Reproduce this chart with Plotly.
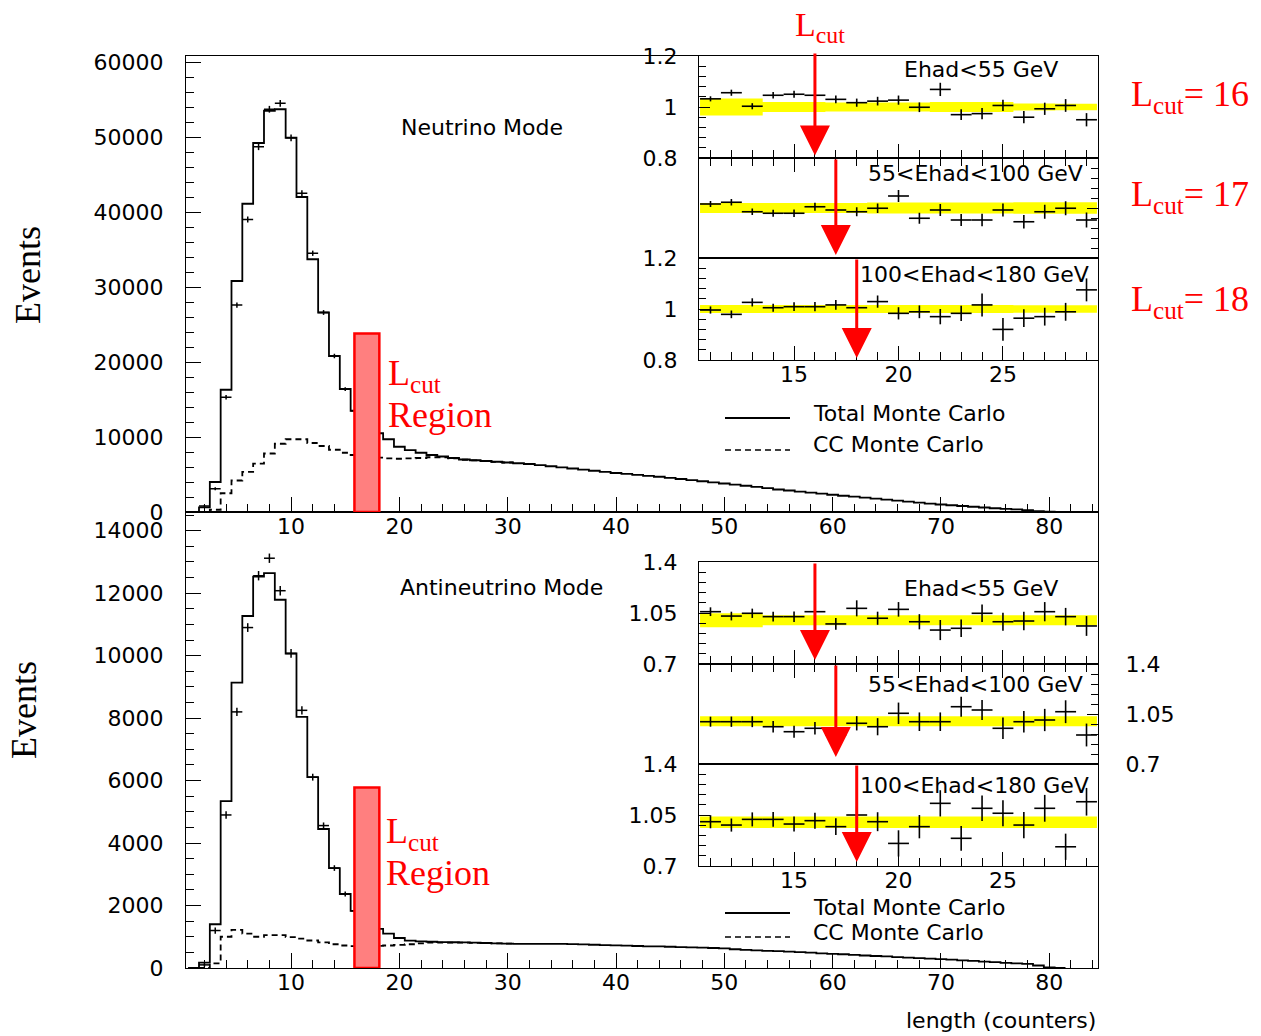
import plotly.graph_objects as go

W, H = 1261, 1036

# ---------------- main histograms: event counts per length bin ----------------
BINS = list(range(1, 82))

NU_TOTAL_MC = [0, 620, 4000, 16300, 30800, 41100, 49200, 53500, 53700, 49900,
               42000, 33700, 26600, 20800, 16400, 13500, 11600, 10500, 9700, 8700,
               8250, 7900, 7600, 7400, 7200, 7000, 6900, 6800, 6700, 6600,
               6500, 6400, 6250, 6100, 5950, 5800, 5650, 5500, 5350, 5200,
               5080, 4950, 4820, 4700, 4550, 4400, 4250, 4100, 3950, 3800,
               3650, 3500, 3350, 3180, 3000, 2870, 2720, 2580, 2440, 2300,
               2170, 2040, 1910, 1780, 1650, 1520, 1390, 1260, 1130, 1000,
               900, 800, 700, 600, 500, 420, 340, 250, 130, 50, 0]

CC_BINS = list(range(1, 31))
NU_CC_MC = [0, 0, 300, 2500, 4200, 5350, 6450, 7800, 9100, 9700,
            9700, 9200, 8800, 8300, 7900, 7600, 7400, 7250, 7150, 7100,
            7150, 7200, 7300, 7300, 7150, 6970, 6880, 6780, 6690, 6600]

DATA_BINS = list(range(2, 17))
NU_DATA = [800, 3100, 15300, 27600, 39000, 48700, 53700, 54500, 49900, 42500,
           34500, 26600, 20800, 16400, 13500]
NU_DATA_ERR = [150, 200, 300, 350, 400, 450, 450, 450, 450, 400,
               350, 320, 300, 250, 250]

ANU_TOTAL_MC = [0, 170, 1400, 5340, 9140, 11270, 12530, 12640, 11790, 10070,
                8040, 6110, 4450, 3200, 2370, 1830, 1500, 1250, 1100, 960,
                875, 850, 840, 830, 825, 820, 810, 800, 790, 780,
                775, 775, 775, 770, 770, 765, 755, 745, 735, 725,
                715, 705, 695, 690, 680, 670, 660, 650, 640, 630,
                600, 580, 565, 550, 540, 525, 510, 490, 470, 450,
                440, 420, 400, 385, 370, 350, 330, 315, 300, 285,
                265, 245, 225, 205, 185, 165, 150, 130, 80, 20, 0]

ANU_CC_MC = [0, 0, 150, 1000, 1220, 1100, 1000, 1050, 1050, 990,
             940, 880, 820, 760, 720, 700, 700, 710, 720, 740,
             760, 790, 810, 815, 815, 812, 805, 796, 788, 778]

ANU_DATA = [100, 1200, 4900, 8200, 10900, 12560, 13120, 12080, 10070, 8250,
            6110, 4560, 3200, 2370, 1830]
ANU_DATA_ERR = [60, 100, 120, 130, 140, 150, 150, 150, 140, 130,
                110, 100, 90, 80, 70]

# ---------------- inset ratios: data / Monte Carlo ----------------
RATIO_BINS = list(range(11, 30))

NU_RATIO = [
    [1.032, 1.056, 1.003, 1.046, 1.050, 1.046, 1.030, 1.017, 1.023, 1.027,
     0.999, 1.069, 0.970, 0.974, 1.006, 0.960, 0.993, 1.006, 0.950],
    [1.016, 1.023, 0.985, 0.979, 0.979, 1.005, 0.992, 0.985, 0.999, 1.048,
     0.959, 0.992, 0.952, 0.952, 0.992, 0.945, 0.985, 0.999, 0.952],
    [0.996, 0.979, 1.026, 1.005, 1.009, 1.009, 1.016, 1.005, 1.029, 0.983,
     0.989, 0.970, 0.983, 1.016, 0.920, 0.964, 0.970, 0.989, 1.075],
]
NU_RATIO_ERR = [
    [0.010, 0.012, 0.012, 0.013, 0.014, 0.015, 0.015, 0.016, 0.017, 0.018,
     0.019, 0.026, 0.021, 0.022, 0.022, 0.024, 0.024, 0.025, 0.026],
    [0.012, 0.013, 0.013, 0.014, 0.015, 0.016, 0.017, 0.018, 0.019, 0.024,
     0.022, 0.024, 0.024, 0.025, 0.026, 0.027, 0.028, 0.028, 0.030],
    [0.014, 0.015, 0.016, 0.016, 0.017, 0.018, 0.019, 0.020, 0.024, 0.024,
     0.025, 0.030, 0.030, 0.045, 0.045, 0.035, 0.035, 0.035, 0.045],
]
NU_BAND_HALF = [
    [0.033, 0.033, 0.033, 0.020, 0.020, 0.020, 0.018, 0.018, 0.018, 0.018,
     0.018, 0.020, 0.020, 0.020, 0.020, 0.014, 0.014, 0.013, 0.013],
    [0.020, 0.020, 0.020, 0.020, 0.020, 0.020, 0.020, 0.020, 0.022, 0.022,
     0.022, 0.022, 0.022, 0.022, 0.022, 0.023, 0.023, 0.023, 0.023],
    [0.016, 0.016, 0.016, 0.016, 0.016, 0.016, 0.016, 0.016, 0.016, 0.016,
     0.016, 0.016, 0.016, 0.016, 0.016, 0.015, 0.015, 0.015, 0.015],
]

ANU_RATIO = [
    [1.059, 1.029, 1.048, 1.025, 1.025, 1.059, 0.975, 1.082, 1.014, 1.075,
     0.990, 0.933, 0.945, 1.048, 0.990, 0.995, 1.059, 1.025, 0.961],
    [0.996, 0.996, 0.996, 0.961, 0.926, 0.950, 0.903, 0.985, 0.961, 1.055,
     0.996, 0.996, 1.101, 1.078, 0.950, 0.996, 1.008, 1.066, 0.903],
    [1.004, 0.981, 1.020, 1.020, 0.988, 1.011, 0.970, 1.050, 1.004, 0.855,
     0.970, 1.130, 0.890, 1.096, 1.062, 0.981, 1.096, 0.832, 1.141],
]
ANU_RATIO_ERR = [
    [0.030, 0.030, 0.032, 0.034, 0.036, 0.038, 0.040, 0.055, 0.045, 0.050,
     0.052, 0.069, 0.060, 0.060, 0.062, 0.064, 0.066, 0.060, 0.068],
    [0.035, 0.036, 0.038, 0.040, 0.042, 0.044, 0.046, 0.050, 0.060, 0.075,
     0.065, 0.065, 0.070, 0.070, 0.075, 0.075, 0.078, 0.080, 0.080],
    [0.045, 0.045, 0.048, 0.050, 0.052, 0.055, 0.058, 0.060, 0.065, 0.090,
     0.080, 0.090, 0.085, 0.088, 0.090, 0.090, 0.092, 0.090, 0.095],
]
ANU_BAND_HALF = [
    [0.048, 0.048, 0.048, 0.034, 0.034, 0.034, 0.034, 0.034, 0.034, 0.034,
     0.034, 0.034, 0.034, 0.034, 0.034, 0.034, 0.034, 0.034, 0.034],
    [0.035, 0.035, 0.035, 0.035, 0.035, 0.035, 0.035, 0.035, 0.035, 0.035,
     0.035, 0.035, 0.035, 0.035, 0.035, 0.035, 0.035, 0.035, 0.035],
    [0.040, 0.040, 0.040, 0.040, 0.040, 0.040, 0.040, 0.040, 0.040, 0.040,
     0.040, 0.040, 0.040, 0.040, 0.040, 0.040, 0.040, 0.040, 0.040],
]

EHAD_LABELS = ["Ehad&lt;55 GeV", "55&lt;Ehad&lt;100 GeV", "100&lt;Ehad&lt;180 GeV"]
LCUT_VALUES = [16, 17, 18]
LCUT_REGION = (16, 18)

# ---------------- helpers ----------------
def xd(p0, p1):
    return [p0 / W, p1 / W]

def yd(top, bot):
    return [1 - bot / H, 1 - top / H]

def px(x):
    return x / W

def py(y):
    return 1 - y / H

def edges(centres):
    return [c - 0.5 for c in centres] + [centres[-1] + 0.5]

def stepped(values):
    return list(values) + [values[-1]]

fig = go.Figure()

def hist_line(centres, values, xa, ya, dash=None):
    fig.add_trace(go.Scatter(
        x=edges(centres), y=stepped(values), mode="lines", line_shape="hv",
        line=dict(color="black", width=1.8, dash=dash),
        xaxis=xa, yaxis=ya, hoverinfo="skip"))

def crosses(xs, ys, errs, xa, ya, thick=1.5):
    fig.add_trace(go.Scatter(
        x=xs, y=ys, mode="markers", marker=dict(size=1, color="black"),
        error_x=dict(type="constant", value=0.5, width=0, thickness=thick, color="black"),
        error_y=dict(type="data", array=errs, width=0, thickness=thick, color="black"),
        xaxis=xa, yaxis=ya, hoverinfo="skip"))

def band(half, xa, ya):
    lo = [1.0 - h for h in half]
    hi = [1.0 + h for h in half]
    fig.add_trace(go.Scatter(x=edges(RATIO_BINS), y=stepped(lo), mode="lines",
                             line_shape="hv", line=dict(width=0, color="#ffff00"),
                             xaxis=xa, yaxis=ya, hoverinfo="skip"))
    fig.add_trace(go.Scatter(x=edges(RATIO_BINS), y=stepped(hi), mode="lines",
                             line_shape="hv", line=dict(width=0, color="#ffff00"),
                             fill="tonexty", fillcolor="#ffff00",
                             xaxis=xa, yaxis=ya, hoverinfo="skip"))

# main panels
hist_line(CC_BINS, NU_CC_MC, "x", "y", dash="6px,4px")
hist_line(BINS, NU_TOTAL_MC, "x", "y")
crosses(DATA_BINS, NU_DATA, NU_DATA_ERR, "x", "y")

hist_line(CC_BINS, ANU_CC_MC, "x2", "y2", dash="6px,4px")
hist_line(BINS, ANU_TOTAL_MC, "x2", "y2")
crosses(DATA_BINS, ANU_DATA, ANU_DATA_ERR, "x2", "y2")

# ratio insets
for i in range(3):
    n = 3 + i
    band(NU_BAND_HALF[i], f"x{n}", f"y{n}")
    crosses(RATIO_BINS, NU_RATIO[i], NU_RATIO_ERR[i], f"x{n}", f"y{n}", thick=1.6)
for i in range(3):
    n = 6 + i
    band(ANU_BAND_HALF[i], f"x{n}", f"y{n}")
    crosses(RATIO_BINS, ANU_RATIO[i], ANU_RATIO_ERR[i], f"x{n}", f"y{n}", thick=1.6)

# ---------------- axes ----------------
TICKFONT = dict(family="DejaVu Sans", size=22, color="black")

def axis_style(**kw):
    base = dict(showline=True, linecolor="black", linewidth=1.3, mirror=True,
                ticks="inside", tickcolor="black", tickwidth=1.3, showgrid=False,
                zeroline=False, tickfont=TICKFONT, fixedrange=True, automargin=False)
    base.update(kw)
    return base

MAIN_X = dict(range=[0.3, 84.5], tick0=0, dtick=10, ticklen=15, ticklabelstandoff=-6,
              minor=dict(ticks="inside", ticklen=8, tickcolor="black", tickwidth=1.3,
                         tickmode="linear", tick0=0, dtick=2, showgrid=False))

layout = dict(
    width=W, height=H, margin=dict(l=0, r=0, t=0, b=0, autoexpand=False),
    paper_bgcolor="white", plot_bgcolor="rgba(0,0,0,0)", showlegend=False,
    xaxis=axis_style(domain=xd(186, 1098), anchor="y", **MAIN_X),
    yaxis=axis_style(domain=yd(56, 512), anchor="x", range=[0, 60800], tick0=0,
                     dtick=10000, tickformat="d", ticklen=15, ticklabelstandoff=17,
                     minor=dict(ticks="inside", ticklen=8, tickcolor="black", tickwidth=1.3,
                                tickmode="linear", tick0=0, dtick=2000, showgrid=False)),
    xaxis2=axis_style(domain=xd(186, 1098), anchor="y2", **MAIN_X),
    yaxis2=axis_style(domain=yd(512, 968), anchor="x2", range=[0, 14600], tick0=0,
                      dtick=2000, tickformat="d", ticklen=15, ticklabelstandoff=17,
                      minor=dict(ticks="inside", ticklen=8, tickcolor="black", tickwidth=1.3,
                                 tickmode="linear", tick0=0, dtick=500, showgrid=False)),
)

INSET_ROWS_NU = [(56, 158), (158, 258), (258, 360)]
INSET_ROWS_ANU = [(562, 664), (664, 764), (764, 866)]

def inset_axes(n, rows_idx, top, bot, yrange, yvals, ydt, show_right_labels):
    xkw = dict(domain=xd(699, 1098), anchor=f"y{n}", range=[10.45, 29.55],
               tick0=15, dtick=5, ticklen=14, ticklabelstandoff=-6,
               minor=dict(ticks="inside", ticklen=8, tickcolor="black", tickwidth=1.3,
                          tickmode="linear", tick0=0, dtick=1, showgrid=False))
    if rows_idx == 0:
        xkw.update(side="bottom", showticklabels=False)
    elif rows_idx == 1:
        xkw.update(side="top", showticklabels=False)
    else:
        xkw.update(side="bottom", showticklabels=True)
    ykw = dict(domain=yd(top, bot), anchor=f"x{n}", range=yrange,
               tickmode="array", tickvals=yvals, ticklen=11, ticklabelstandoff=16,
               minor=dict(ticks="inside", ticklen=7, tickcolor="black", tickwidth=1.3,
                          tickmode="linear", tick0=yrange[0], dtick=ydt, showgrid=False))
    if rows_idx == 1:
        ykw.update(side="right", showticklabels=show_right_labels, ticklabelstandoff=22)
    else:
        ykw.update(side="left")
    layout[f"xaxis{n}"] = axis_style(**xkw)
    layout[f"yaxis{n}"] = axis_style(**ykw)

for i, (t, b) in enumerate(INSET_ROWS_NU):
    inset_axes(3 + i, i, t, b, [0.8, 1.2], [0.8, 1.0, 1.2], 0.04, False)
for i, (t, b) in enumerate(INSET_ROWS_ANU):
    inset_axes(6 + i, i, t, b, [0.7, 1.4], [0.7, 1.05, 1.4], 0.07, True)

fig.update_layout(**layout)

# ---------------- annotations ----------------
SANS = dict(family="DejaVu Sans", size=22, color="black")
SERIF_RED = dict(family="Liberation Serif", size=36, color="red")
ann = []

def text(x, y, s, font, xanchor="center", yanchor="middle", angle=0):
    ann.append(dict(x=px(x), y=py(y), xref="paper", yref="paper", text=s,
                    showarrow=False, font=font, xanchor=xanchor, yanchor=yanchor,
                    textangle=angle))

text(482, 128, "Neutrino Mode", SANS)
text(502, 587, "Antineutrino Mode", SANS)

# energy-slice labels: (x, anchor) per slice
EHAD_POS = [(1060, "right"), (1085, "right"), (858, "left")]
for lbl, (xx, anc), yy in zip(EHAD_LABELS, EHAD_POS, [70, 173, 274]):
    text(xx, yy, lbl, SANS, xanchor=anc)
for lbl, (xx, anc), yy in zip(EHAD_LABELS, EHAD_POS, [588, 684, 785]):
    text(xx, yy, lbl, SANS, xanchor=anc)

# legends
for yt in [(413, 444), (907, 932)]:
    text(811, yt[0], "Total Monte Carlo", SANS, xanchor="left")
    text(811, yt[1], "CC Monte Carlo", SANS, xanchor="left")

text(1098, 1020, "length (counters)", SANS, xanchor="right")
text(28, 275, "Events", dict(family="Liberation Serif", size=36, color="black"), angle=-90)
text(24, 710, "Events", dict(family="Liberation Serif", size=36, color="black"), angle=-90)

# red L_cut notes
text(820, 27, "L<sub>cut</sub>", dict(family="Liberation Serif", size=34, color="red"))
for v, yy in zip(LCUT_VALUES, [96, 196, 301]):
    text(1190, yy, f"L<sub>cut</sub>= {v}", SERIF_RED)
for lx, yl, yr in [(386, 375, 415), (384, 833, 873)]:
    text(lx, yl, "L<sub>cut</sub>", SERIF_RED, xanchor="left")
    text(lx, yr, "Region", SERIF_RED, xanchor="left")

# red arrows marking the cut position in each energy slice
ARROW_SPANS_NU = [(1.216, 0.81), (1.2, 0.812), (1.2, 0.808)]
ARROW_SPANS_ANU = [(1.4, 0.727), (1.4, 0.749), (1.4, 0.727)]
for i, v in enumerate(LCUT_VALUES):
    for n, spans in [(3 + i, ARROW_SPANS_NU), (6 + i, ARROW_SPANS_ANU)]:
        a0, a1 = spans[i]
        ann.append(dict(x=v, y=a1, ax=v, ay=a0, xref=f"x{n}", yref=f"y{n}",
                        axref=f"x{n}", ayref=f"y{n}", text="", showarrow=True,
                        arrowhead=2, arrowsize=2.0, arrowwidth=3, arrowcolor="red",
                        standoff=0, startstandoff=0))

fig.update_layout(annotations=ann)

# ---------------- shapes: legend samples and cut regions ----------------
shapes = []
for ys in [(418, 450), (913, 937)]:
    shapes.append(dict(type="line", xref="paper", yref="paper", x0=px(725), x1=px(790),
                       y0=py(ys[0]), y1=py(ys[0]), line=dict(color="black", width=1.8)))
    shapes.append(dict(type="line", xref="paper", yref="paper", x0=px(725), x1=px(790),
                       y0=py(ys[1]), y1=py(ys[1]),
                       line=dict(color="black", width=1.5, dash="6px,4px")))

for xa, ya, top in [("x", "y", 23800), ("x2", "y2", 5780)]:
    shapes.append(dict(type="rect", xref=xa, yref=ya,
                       x0=LCUT_REGION[0] - 0.15, x1=LCUT_REGION[1] + 0.15, y0=0, y1=top,
                       fillcolor="#ff7f7f", line=dict(color="red", width=2.5), layer="above"))

fig.update_layout(shapes=shapes)

fig.write_html("out.html")
